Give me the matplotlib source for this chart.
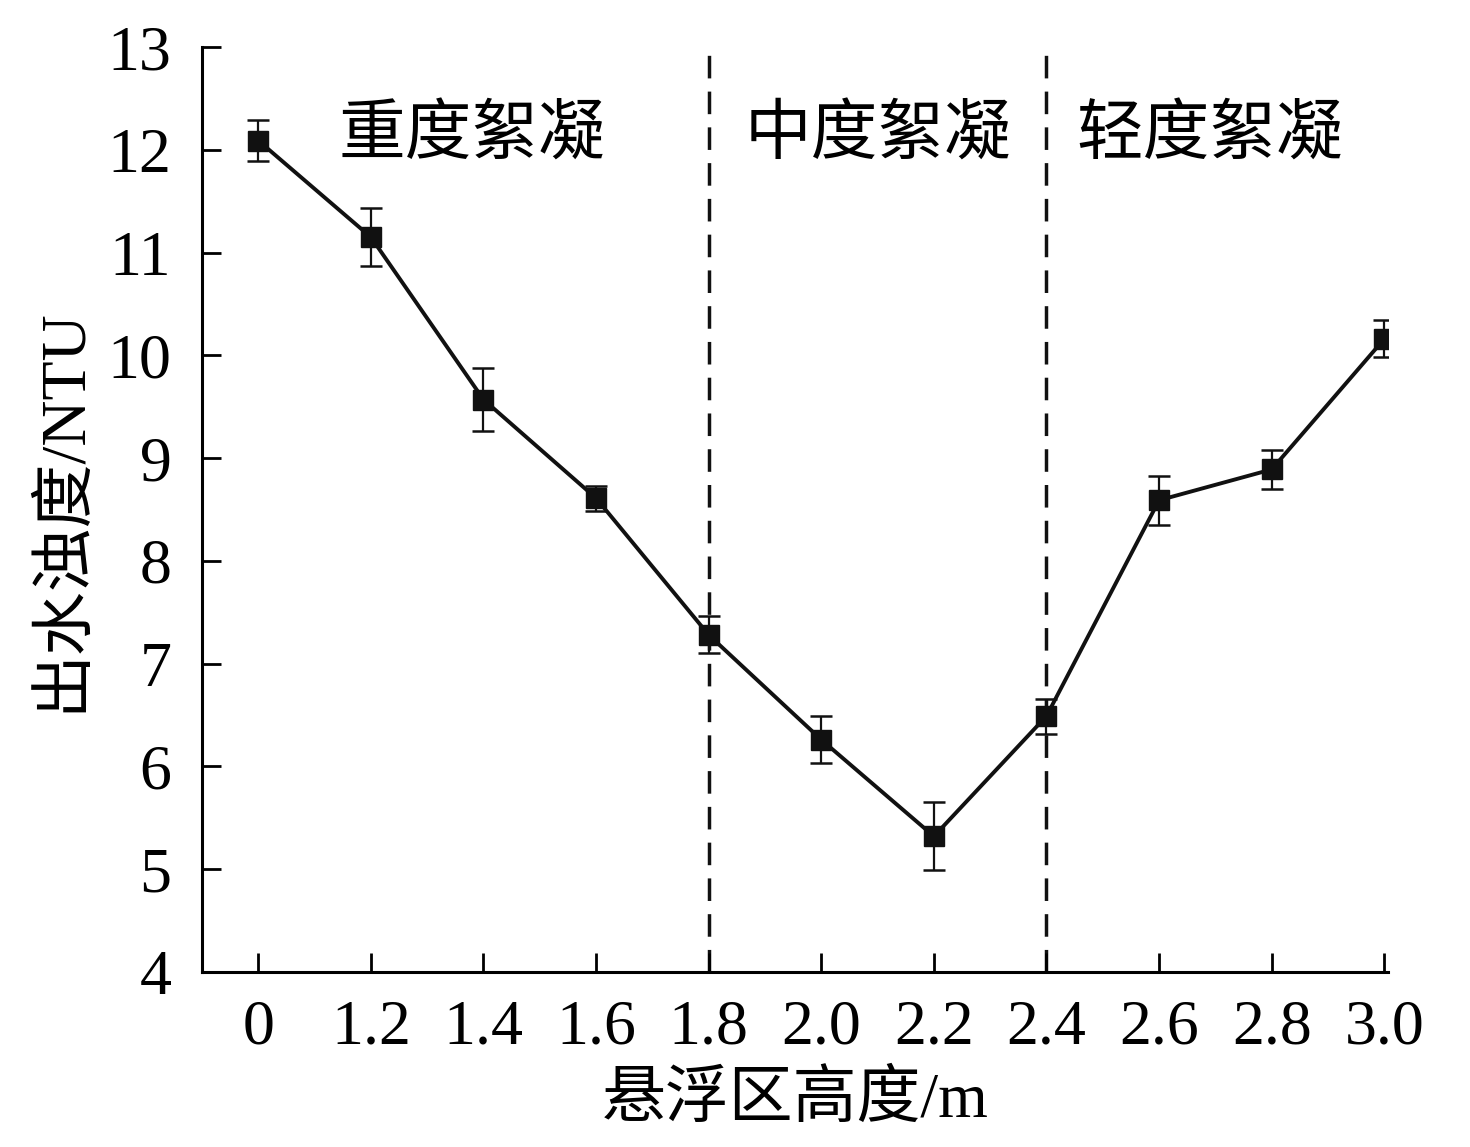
import matplotlib
matplotlib.use("Agg")
import matplotlib.pyplot as plt

plt.rcParams['font.family'] = ['Liberation Serif', 'Noto Sans CJK SC']

# Data
heights = ["0", "1.2", "1.4", "1.6", "1.8", "2.0", "2.2", "2.4", "2.6", "2.8", "3.0"]
turbidity = [12.09, 11.15, 9.57, 8.61, 7.28, 6.26, 5.32, 6.49, 8.59, 8.89, 10.16]
errors = [0.20, 0.28, 0.31, 0.12, 0.18, 0.23, 0.33, 0.17, 0.24, 0.19, 0.18]
zone_labels = ["重度絮凝", "中度絮凝", "轻度絮凝"]
zone_x = [1.9, 5.5, 8.45]
divider_idx = [4, 7]

x = list(range(len(heights)))

fig = plt.figure(figsize=(14.7, 11.47), dpi=100)
ax = fig.add_axes([0.1374, 0.1526, 0.8066, 0.8064])

ax.errorbar(x, turbidity, yerr=errors, color='#111111', marker='s',
            markersize=15, linewidth=2.8, elinewidth=1.6, capsize=8,
            capthick=1.8)

for d in divider_idx:
    ax.axvline(d, ymin=0, ymax=0.995, color='#111111', linestyle=(0, (6.5, 3.8)),
               linewidth=2.5, zorder=0)

for lab, zx in zip(zone_labels, zone_x):
    ax.text(zx, 12.12, lab, ha='center', va='center', fontsize=48)

ax.set_xlim(-0.5, 10.03)
ax.set_ylim(4, 13)
ax.set_xticks(x)
ax.set_xticklabels(heights)
ax.set_yticks(range(4, 14))

for s in ['top', 'right']:
    ax.spines[s].set_visible(False)
for s in ['left', 'bottom']:
    ax.spines[s].set_linewidth(2.2)

ax.tick_params(axis='both', direction='in', length=14, width=2, labelsize=46)
ax.tick_params(axis='x', pad=20)
ax.tick_params(axis='y', pad=22)

ax.set_xlabel("悬浮区高度/m", fontsize=46, labelpad=10)
ax.set_ylabel("出水浊度/NTU", fontsize=46, labelpad=10)

fig.savefig("out.png", dpi=100)
